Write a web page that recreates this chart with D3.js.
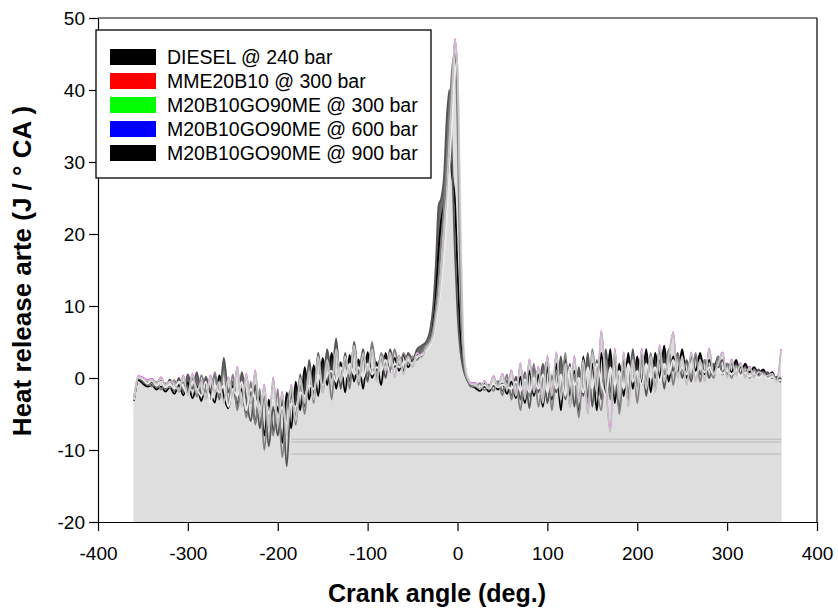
<!DOCTYPE html>
<html><head><meta charset="utf-8">
<script src="https://cdn.jsdelivr.net/npm/d3@7/dist/d3.min.js"></script>
<style>
html,body{margin:0;padding:0;background:#fff;}
svg{display:block;font-family:"Liberation Sans",Arial,sans-serif;}
</style></head>
<body>
<svg id="chart" width="838" height="609"></svg>
<script>
// ---- data ----
const angles = [].concat(d3.range(-360, -34, 5), d3.range(-30, 16, 3), d3.range(20, 361, 5));

const seriesNames = ["DIESEL @ 240 bar", "MME20B10 @ 300 bar", "M20B10GO90ME @ 300 bar", "M20B10GO90ME @ 600 bar", "M20B10GO90ME @ 900 bar"];
const legendColors = ["#000000", "#ff0000", "#00ff00", "#0000ff", "#000000"];

const diesel240 = [
-3.0,-0.3,-0.8,-1.2,-1.0,-1.6,-1.2,-1.9,-1.3,-2.2,
-1.0,-2.4,-0.6,-2.8,-1.2,-3.2,-0.8,-2.0,-3.4,0.4,
-2.6,-4.2,-1.0,-3.6,-1.5,-5.0,-1.8,-6.2,-2.5,-8.0,
-3.0,-7.5,-4.0,-9.0,-2.0,-7.0,-0.5,-4.5,1.5,-3.0,
1.8,-2.5,2.8,-1.0,3.5,-1.5,2.2,-2.0,3.2,-0.5,
2.6,-1.5,3.6,0.0,2.2,-1.0,3.5,0.5,2.8,1.0,
3.2,1.5,2.5,3.2,3.0,4.2,
5.5,7.5,12,18,22,24,27,31,28,25,15,6,2,0.5,-0.5,-1.0,
-1.4,-1.8,-1.2,-1.9,-1.0,-1.6,-0.8,-2.2,-0.5,-2.8,
0.2,-3.5,1.0,-2.5,0.5,-4.0,1.5,-3.0,2.0,-4.5,
2.5,-2.5,1.0,-5.0,3.0,-3.0,2.0,-4.5,3.5,-2.0,
4.0,-3.5,2.0,-2.5,3.5,-1.5,3.0,-1.0,4.0,-2.0,
3.5,0.0,4.5,-0.5,3.0,0.5,4.0,0.0,3.0,1.0,
3.5,0.5,2.5,1.0,3.0,0.5,2.0,0.8,2.5,0.5,
2.0,0.8,1.5,0.5,1.2,0.2,0.8,-0.3,0.0];

const mme20b10_300 = [
-3.2,-0.1,-0.5,-0.9,-0.6,-1.3,-0.4,-1.5,-0.2,-1.8,
0.0,-2.0,0.5,-1.5,0.8,-2.5,0.2,-1.8,0.5,-3.0,
2.8,-2.0,-0.5,-4.0,0.8,-3.0,-6.0,-1.0,-7.0,-2.0,
-9.5,-4.0,-8.0,-3.0,-12.3,-2.0,-5.5,0.5,-4.0,2.5,
-2.5,3.5,-1.0,4.0,0.0,5.5,-1.5,3.5,-0.5,5.0,
0.5,4.0,-0.5,4.5,1.0,3.0,0.0,4.0,1.5,3.0,
1.0,3.5,2.5,4.0,4.5,5.0,
7,10,16,24,25,28,36,40,30,18,9,4,1.5,0.2,-0.6,-1.2,
-1.0,-1.5,-0.8,-1.6,-1.1,-0.6,-1.8,-0.4,-2.5,0.2,
-3.0,0.8,-4.2,1.5,-2.0,2.0,-3.5,0.5,-2.0,3.0,
-3.0,2.0,-4.0,1.5,-2.5,3.5,-4.0,2.5,-3.0,4.0,
-2.0,3.0,-4.5,2.5,-3.0,4.0,-1.5,3.5,-2.5,3.0,
0.0,4.0,-1.5,3.5,1.0,3.5,0.0,2.5,-0.5,3.0,
0.5,2.5,0.0,2.0,1.5,2.5,0.5,2.0,0.5,1.5,
0.8,1.5,0.2,1.2,0.5,0.8,0.0,0.2,-0.3];

const go90_300 = [
-2.8,0.2,0.0,-0.4,-0.2,-0.8,0.0,-1.0,-0.5,-0.8,
-1.8,0.3,-2.5,0.5,-2.0,-0.5,-3.0,0.3,-2.2,-0.5,
-3.5,0.0,-2.5,1.5,-4.0,0.5,-3.5,1.0,-5.5,-1.0,
-7.0,0.0,-6.5,-2.0,-8.0,-1.0,-6.0,0.0,-3.5,1.0,
-3.0,3.0,-2.0,2.5,-1.0,4.0,-0.5,3.0,0.5,4.5,
-0.5,3.5,1.0,4.0,-0.5,3.0,1.0,3.5,0.0,3.0,
0.5,3.0,1.5,3.5,2.8,4.2,
5,6,8.5,11,15,20,26,33,40,47,43,22,6,1,-0.2,-0.8,
-0.8,-1.5,-0.5,-1.4,0.2,-1.2,0.5,-1.5,1.0,-2.5,
2.0,-3.0,2.5,-2.0,1.5,-3.5,3.0,-2.5,3.5,-3.0,
2.0,-4.0,3.0,-3.5,2.5,-5.0,3.5,-2.0,6.5,-1.0,
-7.5,4.0,-3.0,3.5,-4.0,2.5,-2.0,4.0,-1.5,3.0,
-2.0,4.5,-0.5,3.0,6.3,0.0,3.0,-1.0,3.5,-0.5,
2.5,-0.5,4.0,0.5,2.0,3.5,0.0,2.5,0.5,2.0,
0.0,1.5,0.2,0.8,0.5,0.3,0.6,-0.5,3.9];

const go90_600 = [
-3.0,0.0,-0.3,-0.6,-1.2,-0.5,-1.6,-0.7,-1.4,-0.3,
-1.9,-0.6,-2.3,0.0,-2.6,0.4,-1.8,-3.0,0.8,-2.5,
1.0,-3.5,0.5,-4.5,-0.5,-5.5,-0.5,-6.5,-1.5,-10.0,
-4.0,-8.0,-1.5,-11.0,-4.0,-1.5,-6.5,-1.0,-5.0,1.5,
-3.5,3.0,-2.0,2.5,-3.0,4.0,-0.5,2.5,-1.5,4.5,
-1.0,3.0,0.5,5.0,0.0,3.5,2.0,1.0,4.0,1.5,
3.5,2.0,3.0,2.5,3.5,4.5,
5.5,7,10,14,19,24,30,37,43,45,35,14,3.5,0.5,-0.5,-1,
-1.2,-0.7,-1.7,-0.9,-1.8,-0.4,-2.4,0.5,-3.0,-0.5,
-4.5,0.5,-2.5,2.0,-4.0,0.0,2.5,-4.5,1.0,-2.0,
3.5,-4.0,0.5,-5.5,2.0,-3.5,4.0,-1.5,-4.5,2.5,
-3.0,3.5,-5.0,1.0,-2.5,3.0,-3.5,2.5,-0.5,3.5,
-1.5,2.5,0.5,4.0,-1.0,3.0,1.0,2.0,0.0,3.5,
-0.5,2.5,1.5,0.0,3.0,0.5,2.0,0.0,1.8,0.5,
1.5,0.0,1.2,0.3,0.8,0.0,0.5,-0.2,-0.6];

const go90_900 = [
-3.0,0.1,-0.2,-0.8,-0.3,-1.1,-0.5,-1.3,-0.8,-1.5,
-0.5,-1.2,-2.5,-0.5,-1.5,-2.5,-0.5,-3.5,-1.0,-2.0,
-1.0,-4.0,-1.5,-2.5,-0.5,-4.5,-1.5,-3.0,-4.5,-2.0,
-5.0,-3.0,-5.5,-4.0,-6.5,-3.5,-4.0,-2.0,-2.5,-1.0,
-1.5,0.5,-1.0,0.5,1.0,-0.5,1.5,0.0,2.0,0.5,
1.5,0.0,2.0,0.5,1.5,1.0,2.5,0.5,2.0,1.5,
2.0,2.5,2.0,3.0,3.2,3.8,
4.5,5.5,7.5,10,13,17,22,29,36,42,44,26,8,1.5,0,-0.8,
-1.0,-1.3,-1.0,-1.5,-0.8,-1.3,-0.9,-1.2,-1.5,-0.5,
-1.8,-0.2,-2.0,0.0,-1.5,0.5,-2.0,1.0,-1.5,0.5,
-2.5,1.5,-1.0,0.0,-2.0,1.5,-1.5,2.0,-0.5,-2.5,
1.5,-1.0,1.0,-1.5,2.0,-0.5,1.0,-1.0,2.0,0.0,
1.5,-0.5,2.0,0.5,2.5,0.5,1.5,0.5,2.0,0.5,
1.5,0.8,1.5,0.5,1.2,0.6,1.0,0.5,1.0,0.3,
0.8,0.2,0.6,0.0,0.4,-0.1,0.2,-0.4,-0.2];

// stray horizontal fill edges seen in the plot (value, from angle, to angle)
const strayLevels = [-8.5, -8.9, -10.55];
const strayFrom = -185, strayTo = 360;

const xTicks = [-400, -300, -200, -100, 0, 100, 200, 300, 400];
const yTicks = [-20, -10, 0, 10, 20, 30, 40, 50];

// ---- layout ----
const svg = d3.select("#chart");
const L = 98, R = 817, T = 18, B = 522;
const x = d3.scaleLinear().domain([-400, 400]).range([L, R]);
const y = d3.scaleLinear().domain([-20, 50]).range([B, T]);

const allSeries = [diesel240, mme20b10_300, go90_300, go90_600, go90_900];
const rows = allSeries.map(vals => angles.map((a, i) => ({a, v: vals[i]})));

const area = d3.area().x(d => x(d.a)).y0(y(-20)).y1(d => y(d.v)).curve(d3.curveMonotoneX);
const line = d3.line().x(d => x(d.a)).y(d => y(d.v)).curve(d3.curveMonotoneX);

// area fills: draw order and fills (grey-scale as in the picture)
const areaOrder = [0, 1, 3, 4, 2];
const areaFill = ["#3a3a3a", "#6a6a6a", "#dedede", "#dedede", "#dedede"];
const g = svg.append("g");
areaOrder.forEach(k => {
  g.append("path").datum(rows[k]).attr("d", area).attr("fill", areaFill[k]).attr("stroke", "none");
});

// stray lines
strayLevels.forEach(v => {
  g.append("line").attr("x1", x(strayFrom)).attr("x2", x(strayTo))
    .attr("y1", y(v)).attr("y2", y(v)).attr("stroke", "#b8b8b8").attr("stroke-width", 1);
});

// lines
const lineColor = ["#000000", "#555555", "#c4c4c4", "#808080", "#ececec"];
g.append("path").datum(rows[2]).attr("d", line).attr("fill", "none")
  .attr("stroke", "#ff00ff").attr("stroke-width", 1.2).attr("transform", "translate(0,-0.8)");
[0, 1, 3, 4, 2].forEach(k => {
  g.append("path").datum(rows[k]).attr("d", line).attr("fill", "none")
    .attr("stroke", lineColor[k]).attr("stroke-width", 1.8).attr("stroke-linejoin", "round");
});

// frame
svg.append("line").attr("x1", L).attr("x2", R).attr("y1", T).attr("y2", T).attr("stroke", "#000").attr("stroke-width", 1.2);
svg.append("line").attr("x1", R).attr("x2", R).attr("y1", T).attr("y2", B).attr("stroke", "#000").attr("stroke-width", 1.2);

// axes
const fmt = d => String(d);
const xAxis = svg.append("g").attr("transform", `translate(0,${B})`)
  .call(d3.axisBottom(x).tickValues(xTicks).tickFormat(fmt).tickSize(9).tickSizeOuter(0).tickPadding(16));
const yAxis = svg.append("g").attr("transform", `translate(${L},0)`)
  .call(d3.axisLeft(y).tickValues(yTicks).tickFormat(fmt).tickSize(9).tickSizeOuter(0).tickPadding(4));
[xAxis, yAxis].forEach(ax => {
  ax.select(".domain").attr("stroke", "#000").attr("stroke-width", 1.2);
  ax.selectAll(".tick line").attr("stroke", "#000").attr("stroke-width", 1.2);
  ax.selectAll(".tick text").attr("fill", "#000").style("font-size", "19px")
    .style("font-family", "'Liberation Sans', Arial, sans-serif");
});

// titles
svg.append("text").attr("x", 437).attr("y", 602).attr("text-anchor", "middle")
  .style("font-size", "25px").style("font-weight", "bold").text("Crank angle (deg.)");
svg.append("text").attr("transform", "translate(31,271) rotate(-90)").attr("text-anchor", "middle")
  .style("font-size", "26px").style("font-weight", "bold").text("Heat release arte (J / ° CA )");

// legend
const lg = svg.append("g");
lg.append("rect").attr("x", 96).attr("y", 30).attr("width", 335).attr("height", 148)
  .attr("fill", "#fff").attr("stroke", "#000").attr("stroke-width", 1.3);
seriesNames.forEach((name, i) => {
  const cy = 57 + i * 24;
  lg.append("rect").attr("x", 110).attr("y", cy - 8).attr("width", 46).attr("height", 16)
    .attr("fill", legendColors[i]);
  lg.append("text").attr("x", 167).attr("y", cy + 7).style("font-size", "19.5px").text(name);
});
</script>
</body></html>
